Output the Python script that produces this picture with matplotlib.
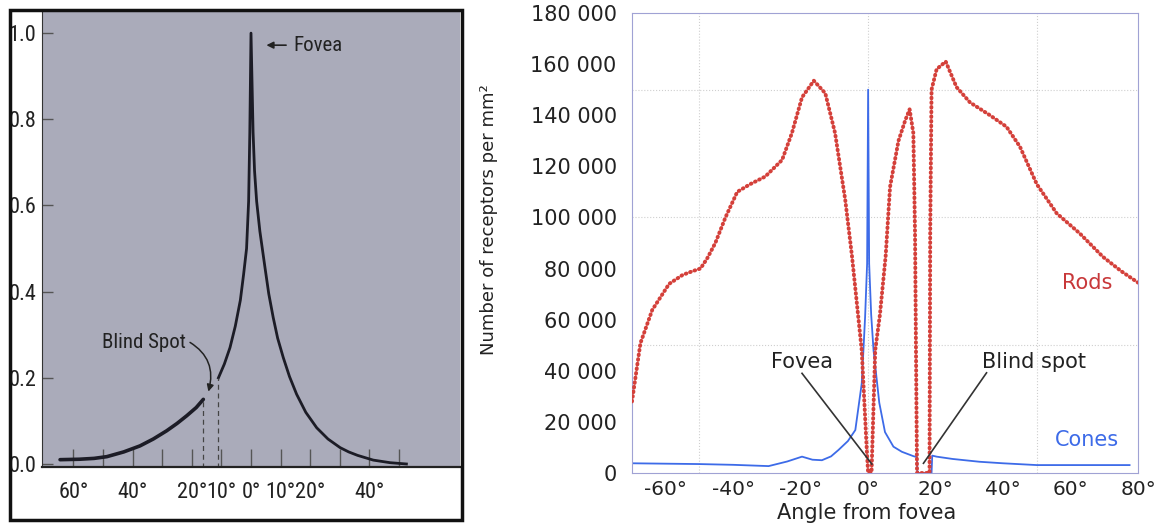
import matplotlib
matplotlib.use("Agg")
import matplotlib.pyplot as plt
from matplotlib.patches import Rectangle
from matplotlib import font_manager

# left panel: relative acuity against angle from fovea (degrees)
acuity_outer_x = [-64.5, -58, -53, -48.7, -43, -37.5, -33, -28.5, -25, -21.7, -18.5, -16.1]
acuity_outer_y = [0.010, 0.011, 0.013, 0.017, 0.028, 0.042, 0.058, 0.077, 0.094, 0.112, 0.131, 0.150]
acuity_inner_x = [-11.0, -9.0, -7.1, -5.3, -3.6, -2.5, -1.5, -0.8, -0.4, 0.0,
                  0.7, 1.2, 1.9, 3.0, 4.7, 6.0, 7.5, 9.0, 10.9, 13.0, 15.4, 18.5, 22.2,
                  26.0, 30.1, 33.0, 36.0, 41.3, 47.0, 52.5]
acuity_inner_y = [0.200, 0.232, 0.270, 0.320, 0.380, 0.440, 0.500, 0.610, 0.770, 1.000,
                  0.770, 0.680, 0.610, 0.540, 0.457, 0.395, 0.340, 0.292, 0.247, 0.203,
                  0.162, 0.120, 0.084, 0.058, 0.038, 0.028, 0.020, 0.009, 0.003, 0.0]
blind_edges = [-16.1, -11.0]
blind_tops = [0.150, 0.200]
acuity_xticks = [-60, -50, -40, -30, -20, -10, 0, 10, 20, 30, 40, 50]
acuity_xlabels = ['60°', '', '40°', '', '20°', '10°', '0°', '10°', '20°', '', '40°', '']
acuity_yticks = [0.0, 0.2, 0.4, 0.6, 0.8, 1.0]

# right panel: receptor density per mm2
rods_x = [-70, -67.5, -64, -59, -55, -52, -49.7, -47.7, -45.3, -42.3, -38.8, -35, -30.5, -25.5,
          -22.6, -19.6, -16.1, -12.7, -9.8, -6.8, -4.8, -1.9, -0.4, 0.0, 1.0, 2.1, 3.5, 5.2,
          6.5, 9.0, 11.0, 12.3, 13.4, 13.9, 14.3, 14.5, 18.2, 18.4, 18.8, 20.3, 23.0, 26.2,
          30.2, 36.1, 41.0, 45.0, 50.0, 55.9, 62.7, 69.6, 75.0, 80.0]
rods_y = [28000, 50800, 63800, 74000, 77500, 79000, 80000, 84000, 90000, 100000, 110000, 113000,
          116000, 122500, 133000, 147000, 153500, 148600, 133000, 107000, 85000, 48000, 9000, 0,
          0, 48000, 62000, 85000, 112000, 130000, 138000, 142300, 133000, 94000, 30000, 0, 0,
          94000, 150000, 158000, 161000, 151000, 145000, 140000, 135500, 127700, 113000, 101600,
          93800, 84600, 79000, 74500]
cones_x = [-70, -50.3, -40, -29.5, -24, -19.6, -16.5, -13.7, -11, -8.8, -6, -3.8, -1.9, -0.9,
           -0.3, 0.0, 0.3, 0.9, 1.6, 3.3, 5.0, 7.5, 10.0, 13.4, 14.5, 14.6, 18.8, 19.0, 20.3,
           25, 33, 40, 50, 65, 77.5]
cones_y = [3800, 3500, 3200, 2700, 4500, 6400, 5200, 5000, 6500, 9000, 12500, 16800, 35000, 61000,
           82000, 150000, 82000, 62000, 48000, 27500, 16000, 10300, 8300, 6600, 6200, 0, 0, 6800,
           6400, 5500, 4400, 3800, 3100, 3100, 3100]
angle_ticks = [-60, -40, -20, 0, 20, 40, 60, 80]
count_ticks = [0, 20000, 40000, 60000, 80000, 100000, 120000, 140000, 160000, 180000]
grid_angles = [-50, 0, 50]
grid_counts = [50000, 100000, 150000]

# the left figure uses a narrow face; pick whatever condensed font exists
fonts = font_manager.fontManager.ttflist
names = {f.name for f in fonts}
left_font = dict(family='DejaVu Sans', stretch='normal', size=12.5)
for name, size in [('Liberation Sans Narrow', 16), ('Roboto Condensed', 16),
                   ('Open Sans Condensed', 15), ('DejaVu Sans Condensed', 13.5)]:
    if name in names:
        left_font = dict(family=name, stretch='normal', size=size)
        break
else:
    if any(f.name == 'DejaVu Sans' and 'condensed' in str(f.stretch) for f in fonts):
        left_font = dict(family='DejaVu Sans', stretch='condensed', size=13.5)
lf = dict(family=left_font['family'], fontstretch=left_font['stretch'])
lsize = left_font['size']

W, H = 1163, 529
fig = plt.figure(figsize=(W / 100, H / 100), dpi=100)

# ---- left panel ----
ax1 = fig.add_axes([42 / W, (H - 467) / H, (460 - 42) / W, (467 - 12) / H])
ax1.set_facecolor('#aaabba')
ax1.plot(acuity_outer_x, acuity_outer_y, color='#1c1c26', lw=2.6, solid_capstyle='round')
ax1.plot(acuity_inner_x, acuity_inner_y, color='#1c1c26', lw=2.0)
for x, top in zip(blind_edges, blind_tops):
    ax1.plot([x, x], [-0.01, top], color='#444', lw=0.9, ls=(0, (4, 3)))
ax1.set_xlim(-70.6, 70.6)
ax1.set_ylim(-0.007, 1.049)
ax1.set_xticks(acuity_xticks)
ax1.set_xticklabels(acuity_xlabels, fontsize=lsize, color='#222', **lf)
ax1.set_yticks(acuity_yticks)
ax1.set_yticklabels([f'{v:.1f}' for v in acuity_yticks], fontsize=lsize, color='#222', **lf)
ax1.tick_params(axis='x', direction='in', length=13, width=1, color='#555', pad=11)
ax1.tick_params(axis='y', direction='in', length=8, width=1, color='#555', pad=4)
for s in ['top', 'right']:
    ax1.spines[s].set_visible(False)
ax1.spines['left'].set_color('#333')
ax1.spines['bottom'].set_color('#222')
ax1.spines['bottom'].set_linewidth(1.6)

ax1.annotate('Fovea', xy=(5.2, 0.972), xytext=(14.2, 0.972), ha='left', va='center',
             fontsize=lsize - 1, color='#222', **lf,
             arrowprops=dict(arrowstyle='-|>', color='#222', lw=1.2, shrinkA=3, shrinkB=0,
                             mutation_scale=10))
ax1.annotate('Blind Spot', xy=(-14.4, 0.168), xytext=(-36.1, 0.283), ha='center', va='center',
             fontsize=lsize - 1, color='#222', **lf,
             arrowprops=dict(arrowstyle='-|>', color='#222', lw=1.1, shrinkA=1, shrinkB=0,
                             mutation_scale=10, relpos=(1.0, 0.6),
                             connectionstyle='arc3,rad=-0.4'))

fig.add_artist(Rectangle((10 / W, (H - 520) / H), (461.5 - 10) / W, (520 - 10) / H,
                         transform=fig.transFigure, fill=False, lw=2.5, ec='#111', zorder=10))

# ---- right panel ----
ax2 = fig.add_axes([632 / W, (H - 473) / H, (1138 - 632) / W, (473 - 13) / H])
for a in grid_angles:
    ax2.axvline(a, color='#cfcfcf', lw=0.8, ls=':', zorder=0)
for c in grid_counts:
    ax2.axhline(c, color='#cfcfcf', lw=0.8, ls=':', zorder=0)
ax2.plot(cones_x, cones_y, color='#3d6be8', lw=1.3, zorder=2)
ax2.plot(rods_x, rods_y, color='#d4403a', lw=2.8, ls=(0, (0.2, 1.0)),
         dash_capstyle='round', zorder=3)
ax2.set_xlim(-70, 80)
ax2.set_ylim(0, 180000)
ax2.set_xticks(angle_ticks)
ax2.set_xticklabels([f'{a}°' for a in angle_ticks])
ax2.set_yticks(count_ticks)
ax2.set_yticklabels([f'{c:,}'.replace(',', ' ') for c in count_ticks])
ax2.tick_params(axis='x', length=0, pad=5, labelsize=14.5, labelcolor='#222')
ax2.tick_params(axis='y', length=0, pad=11, labelsize=15, labelcolor='#222')
for s in ax2.spines.values():
    s.set_color('#a0a2d4')
    s.set_linewidth(0.8)
ax2.set_xlabel('Angle from fovea', fontsize=15, color='#222')
ax2.xaxis.set_label_coords(0.464, -0.066)
ax2.set_ylabel('Number of receptors per mm²', fontsize=13, color='#222')
ax2.yaxis.set_label_coords(-0.265, 0.55)

ax2.text(-19.6, 43400, 'Fovea', ha='center', va='center', fontsize=15, color='#222')
ax2.plot([-19.6, 1.1], [39000, 3500], color='#333', lw=1.2, zorder=4)
ax2.text(49.1, 43500, 'Blind spot', ha='center', va='center', fontsize=15, color='#222')
ax2.plot([35.1, 16.4], [39200, 3800], color='#333', lw=1.2, zorder=4)
ax2.text(64.9, 74200, 'Rods', ha='center', va='center', fontsize=15, color='#c8383a')
ax2.text(64.9, 12900, 'Cones', ha='center', va='center', fontsize=15, color='#3d6be8')

fig.savefig('out.png', dpi=100)
